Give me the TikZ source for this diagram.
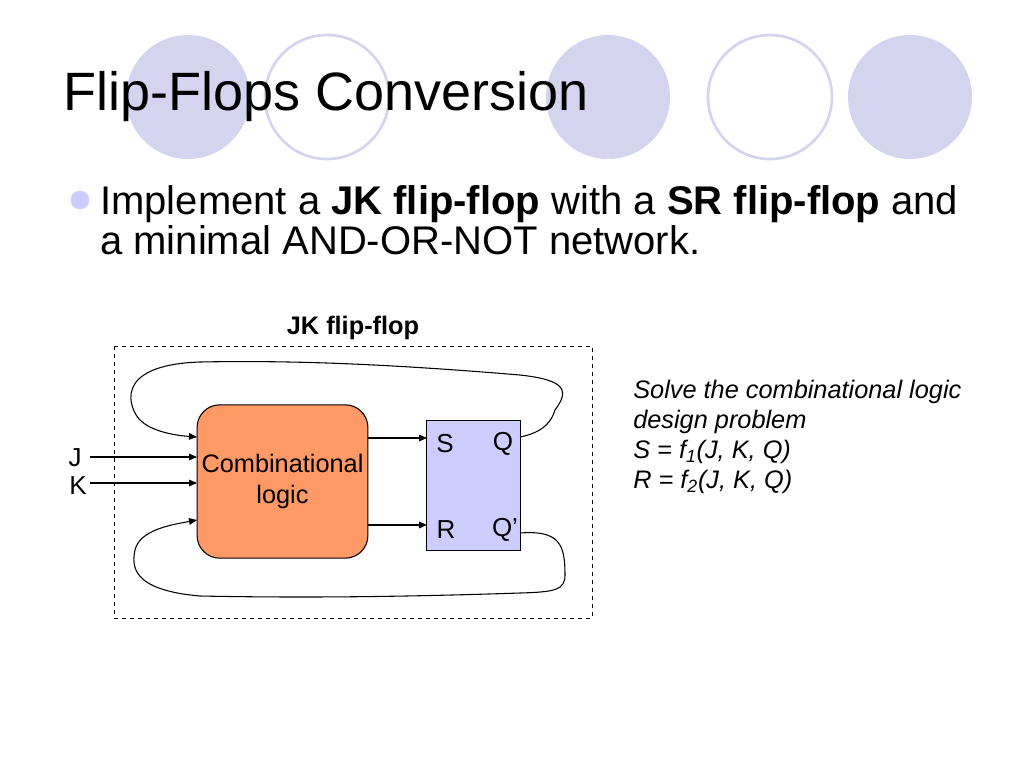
\documentclass[tikz,border=0pt]{standalone}
\usepackage{fontspec}
\setmainfont{Liberation Sans}
\usetikzlibrary{arrows.meta}
\begin{document}
\begin{tikzpicture}[x=0.75pt,y=-0.75pt,
  deco/.style={circle,minimum size=93pt,inner sep=0},
  arr/.style={-{Triangle[length=6pt,width=5pt]},line width=0.8pt},
  lab/.style={font=\fontsize{19.5}{23}\selectfont,inner sep=0}]
\useasboundingbox (0,0) rectangle (1024,768);
\definecolor{lav}{HTML}{D4D4EE}
\definecolor{lavb}{HTML}{CCCCFF}
\definecolor{orng}{HTML}{FF9966}
\node[deco,fill=lav] (c1) at (188,97) {};
\node[deco,draw=lav,line width=2pt] (c2) at (327,97) {};
\node[deco,fill=lav] (c3) at (608,97) {};
\node[deco,draw=lav,line width=2pt] (c4) at (770,97) {};
\node[deco,fill=lav] (c5) at (910,97) {};
\node[anchor=west,font=\fontsize{40.5}{48}\selectfont,inner sep=0] (title) at (63,97) {Flip-Flops Conversion};
\node[circle,fill=lavb,minimum size=14pt,inner sep=0] (bul) at (80,200) {};
\node[anchor=base west,align=left,font=\fontsize{30}{29.5}\selectfont,inner sep=0] (txt) at (100,254)
 {Implement a \textbf{JK flip-flop} with a \textbf{SR flip-flop} and\\ a minimal AND-OR-NOT network.};
\node[font=\bfseries\fontsize{19}{22}\selectfont] (lbl) at (353,328) {JK flip-flop};
\draw[dashed,line width=0.6pt] (114,346) rectangle (592,618);
\node[draw,fill=orng,rounded corners=17pt,minimum width=128pt,minimum height=115pt,line width=0.8pt,
  align=center,font=\fontsize{19}{23}\selectfont] (cl) at (282.5,481.5) {Combinational\\logic};
\node[draw,fill=lavb,minimum width=70pt,minimum height=97pt,line width=0.8pt] (sr) at (473.5,485.5) {};
\node[lab] (S) at (445,444) {S};
\node[lab] (Q) at (503,444) {Q};
\node[lab] (R) at (446,530) {R};
\node[lab] (Qb) at (505,530) {Q’};
\node[lab] (J) at (75,458) {J};
\node[lab] (K) at (78,486) {K};
\coordinate (j0) at (90,457); \coordinate (ji) at (197,457);
\coordinate (k0) at (90,483); \coordinate (ki) at (197,483);
\draw[arr] (j0) -- (ji);
\draw[arr] (k0) -- (ki);
\coordinate (so) at (368,438); \coordinate (si) at (427,438);
\coordinate (ro) at (368,525); \coordinate (ri) at (427,525);
\draw[arr] (so) -- (si);
\draw[arr] (ro) -- (ri);
\coordinate (qo) at (520,437); \coordinate (ft) at (197,437);
\coordinate (qbo) at (520,533); \coordinate (fb) at (197,520);
\draw[arr] (qo) .. controls (545,432) and (552,420) .. (555,410)
  .. controls (570,390) and (565,380) .. (520,375)
  .. controls (400,365) and (300,360) .. (200,362)
  .. controls (110,365) and (130,410) .. (140,420)
  .. controls (150,430) and (170,435) .. (ft);
\draw[arr] (qbo) .. controls (560,530) and (565,545) .. (565,575)
  .. controls (565,590) and (555,592) .. (520,593)
  .. controls (400,597) and (300,598) .. (200,596)
  .. controls (130,590) and (132,565) .. (135,550)
  .. controls (140,530) and (170,525) .. (fb);
\node[anchor=base west,align=left,font=\itshape\fontsize{19}{22.5}\selectfont,inner sep=0] (sol) at (633,488)
 {Solve the combinational logic\\design problem\\S = f\textsubscript{1}(J, K, Q)\\R = f\textsubscript{2}(J, K, Q)};
\end{tikzpicture}
\end{document}
